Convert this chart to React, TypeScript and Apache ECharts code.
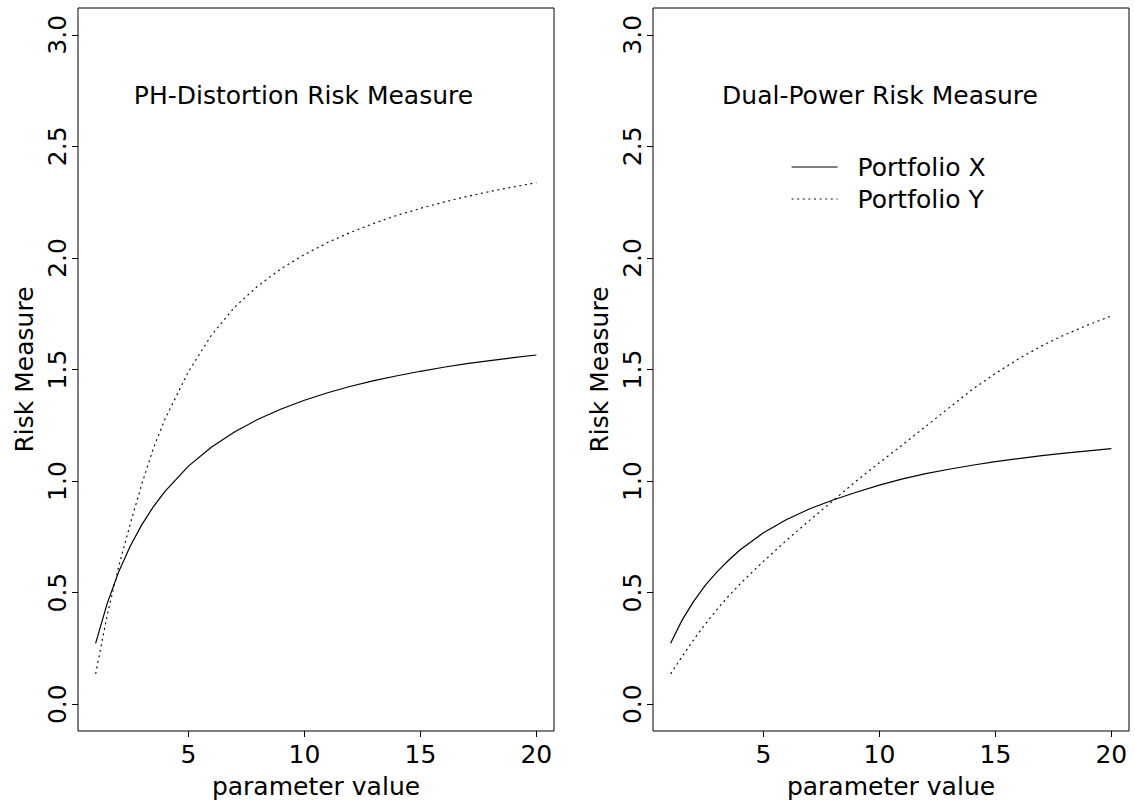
import React, { useEffect, useRef } from "react";
import * as echarts from "echarts";

// Parameter grid (x) shared by every curve
const paramValues = [1, 1.5, 2, 2.5, 3, 3.5, 4, 5, 6, 7, 8, 9, 10, 11, 12, 13, 14, 15, 16, 17, 18, 19, 20];

// PH-distortion risk measure
const phPortfolioX = [0.273, 0.452, 0.595, 0.71, 0.806, 0.887, 0.955, 1.067, 1.153, 1.221, 1.277, 1.323, 1.362, 1.396, 1.425, 1.45, 1.472, 1.492, 1.51, 1.526, 1.54, 1.553, 1.565];
const phPortfolioY = [0.136, 0.4, 0.62, 0.81, 0.99, 1.15, 1.28, 1.49, 1.655, 1.78, 1.875, 1.952, 2.015, 2.069, 2.115, 2.155, 2.191, 2.222, 2.25, 2.275, 2.298, 2.318, 2.337];

// Dual-power risk measure
const dpPortfolioX = [0.273, 0.378, 0.462, 0.534, 0.593, 0.645, 0.692, 0.768, 0.828, 0.876, 0.915, 0.95, 0.982, 1.01, 1.033, 1.053, 1.071, 1.087, 1.101, 1.114, 1.125, 1.135, 1.145];
const dpPortfolioY = [0.136, 0.215, 0.29, 0.36, 0.425, 0.485, 0.54, 0.64, 0.735, 0.825, 0.912, 1.0, 1.082, 1.163, 1.245, 1.328, 1.41, 1.482, 1.548, 1.606, 1.656, 1.7, 1.74];

const xTicks = [5, 10, 15, 20];
const yTicks = [0, 0.5, 1, 1.5, 2, 2.5, 3];

const panelTitles = ["PH-Distortion Risk Measure", "Dual-Power Risk Measure"];
const seriesNames = ["Portfolio X", "Portfolio Y"];

const FONT = "DejaVu Sans";
const FONT_SIZE = 25;

const toPairs = (ys: number[]) => paramValues.map((x, i) => [x, ys[i]]);

const solidStyle = { color: "#000", width: 1.2, type: "solid" as const };
const dottedStyle = { color: "#111", width: 1.2, type: [2, 3.6] as number[] };

export default function App() {
  const ref = useRef<HTMLDivElement>(null);

  useEffect(() => {
    if (!ref.current) return;
    const chart = echarts.init(ref.current, null, { renderer: "svg" });

    const gridLefts = [78, 653];
    const textStyle = { fontFamily: FONT, fontSize: FONT_SIZE, color: "#000" };

    const grid = gridLefts.map((left) => ({
      left,
      top: 8,
      width: 476,
      height: 723,
      show: true,
      borderColor: "#000",
      borderWidth: 1,
      backgroundColor: "transparent",
    }));

    const xAxis = gridLefts.map((_, i) => ({
      type: "value",
      gridIndex: i,
      min: 0.24,
      max: 20.76,
      axisLine: { show: false, onZero: false },
      splitLine: { show: false },
      axisTick: { show: true, length: 6, customValues: xTicks, lineStyle: { color: "#000", width: 1 } },
      axisLabel: { customValues: xTicks, margin: 11, ...textStyle },
      name: "parameter value",
      nameLocation: "middle",
      nameGap: 43,
      nameTextStyle: textStyle,
    }));

    const yAxis = gridLefts.map((_, i) => ({
      type: "value",
      gridIndex: i,
      min: -0.12,
      max: 3.12,
      axisLine: { show: false, onZero: false },
      splitLine: { show: false },
      axisTick: { show: true, length: 6, customValues: yTicks, lineStyle: { color: "#000", width: 1 } },
      axisLabel: {
        customValues: yTicks,
        rotate: 90,
        margin: 8.5,
        formatter: (v: number) => v.toFixed(1),
        ...textStyle,
      },
      name: "Risk Measure",
      nameLocation: "middle",
      nameGap: 41.5,
      nameTextStyle: textStyle,
    }));

    const panels = [
      [phPortfolioX, phPortfolioY],
      [dpPortfolioX, dpPortfolioY],
    ];

    const series: any[] = [];
    panels.forEach((pair, i) => {
      pair.forEach((ys, j) => {
        series.push({
          type: "line",
          name: seriesNames[j],
          xAxisIndex: i,
          yAxisIndex: i,
          data: toPairs(ys),
          symbol: "none",
          showSymbol: false,
          silent: true,
          itemStyle: { color: "#000" },
          lineStyle: j === 0 ? solidStyle : dottedStyle,
        });
      });
    });

    chart.setOption({
      animation: false,
      backgroundColor: "#fff",
      grid,
      xAxis,
      yAxis,
      series,
      legend: {
        data: seriesNames,
        orient: "vertical",
        left: 786,
        top: 149.5,
        itemWidth: 46,
        itemHeight: 14,
        itemGap: 7,
        selectedMode: false,
        itemStyle: { color: "transparent", borderColor: "transparent", borderWidth: 0, opacity: 0 },
        lineStyle: { width: 1.2 },
        textStyle: { ...textStyle, lineHeight: 25, padding: [0, 0, 0, 15] },
      },
      graphic: [
        {
          type: "text",
          x: 303.5,
          y: 95,
          style: {
            text: panelTitles[0],
            fill: "#000",
            fontFamily: FONT,
            fontSize: FONT_SIZE,
            align: "center",
            verticalAlign: "middle",
            textAlign: "center",
            textVerticalAlign: "middle",
          },
        },
        {
          type: "text",
          x: 880,
          y: 95,
          style: {
            text: panelTitles[1],
            fill: "#000",
            fontFamily: FONT,
            fontSize: FONT_SIZE,
            align: "center",
            verticalAlign: "middle",
            textAlign: "center",
            textVerticalAlign: "middle",
          },
        },
      ],
    });

    return () => chart.dispose();
  }, []);

  return (
    <div
      ref={ref}
      style={{ position: "fixed", left: 0, top: 0, width: 1135, height: 806, background: "#fff" }}
    />
  );
}
